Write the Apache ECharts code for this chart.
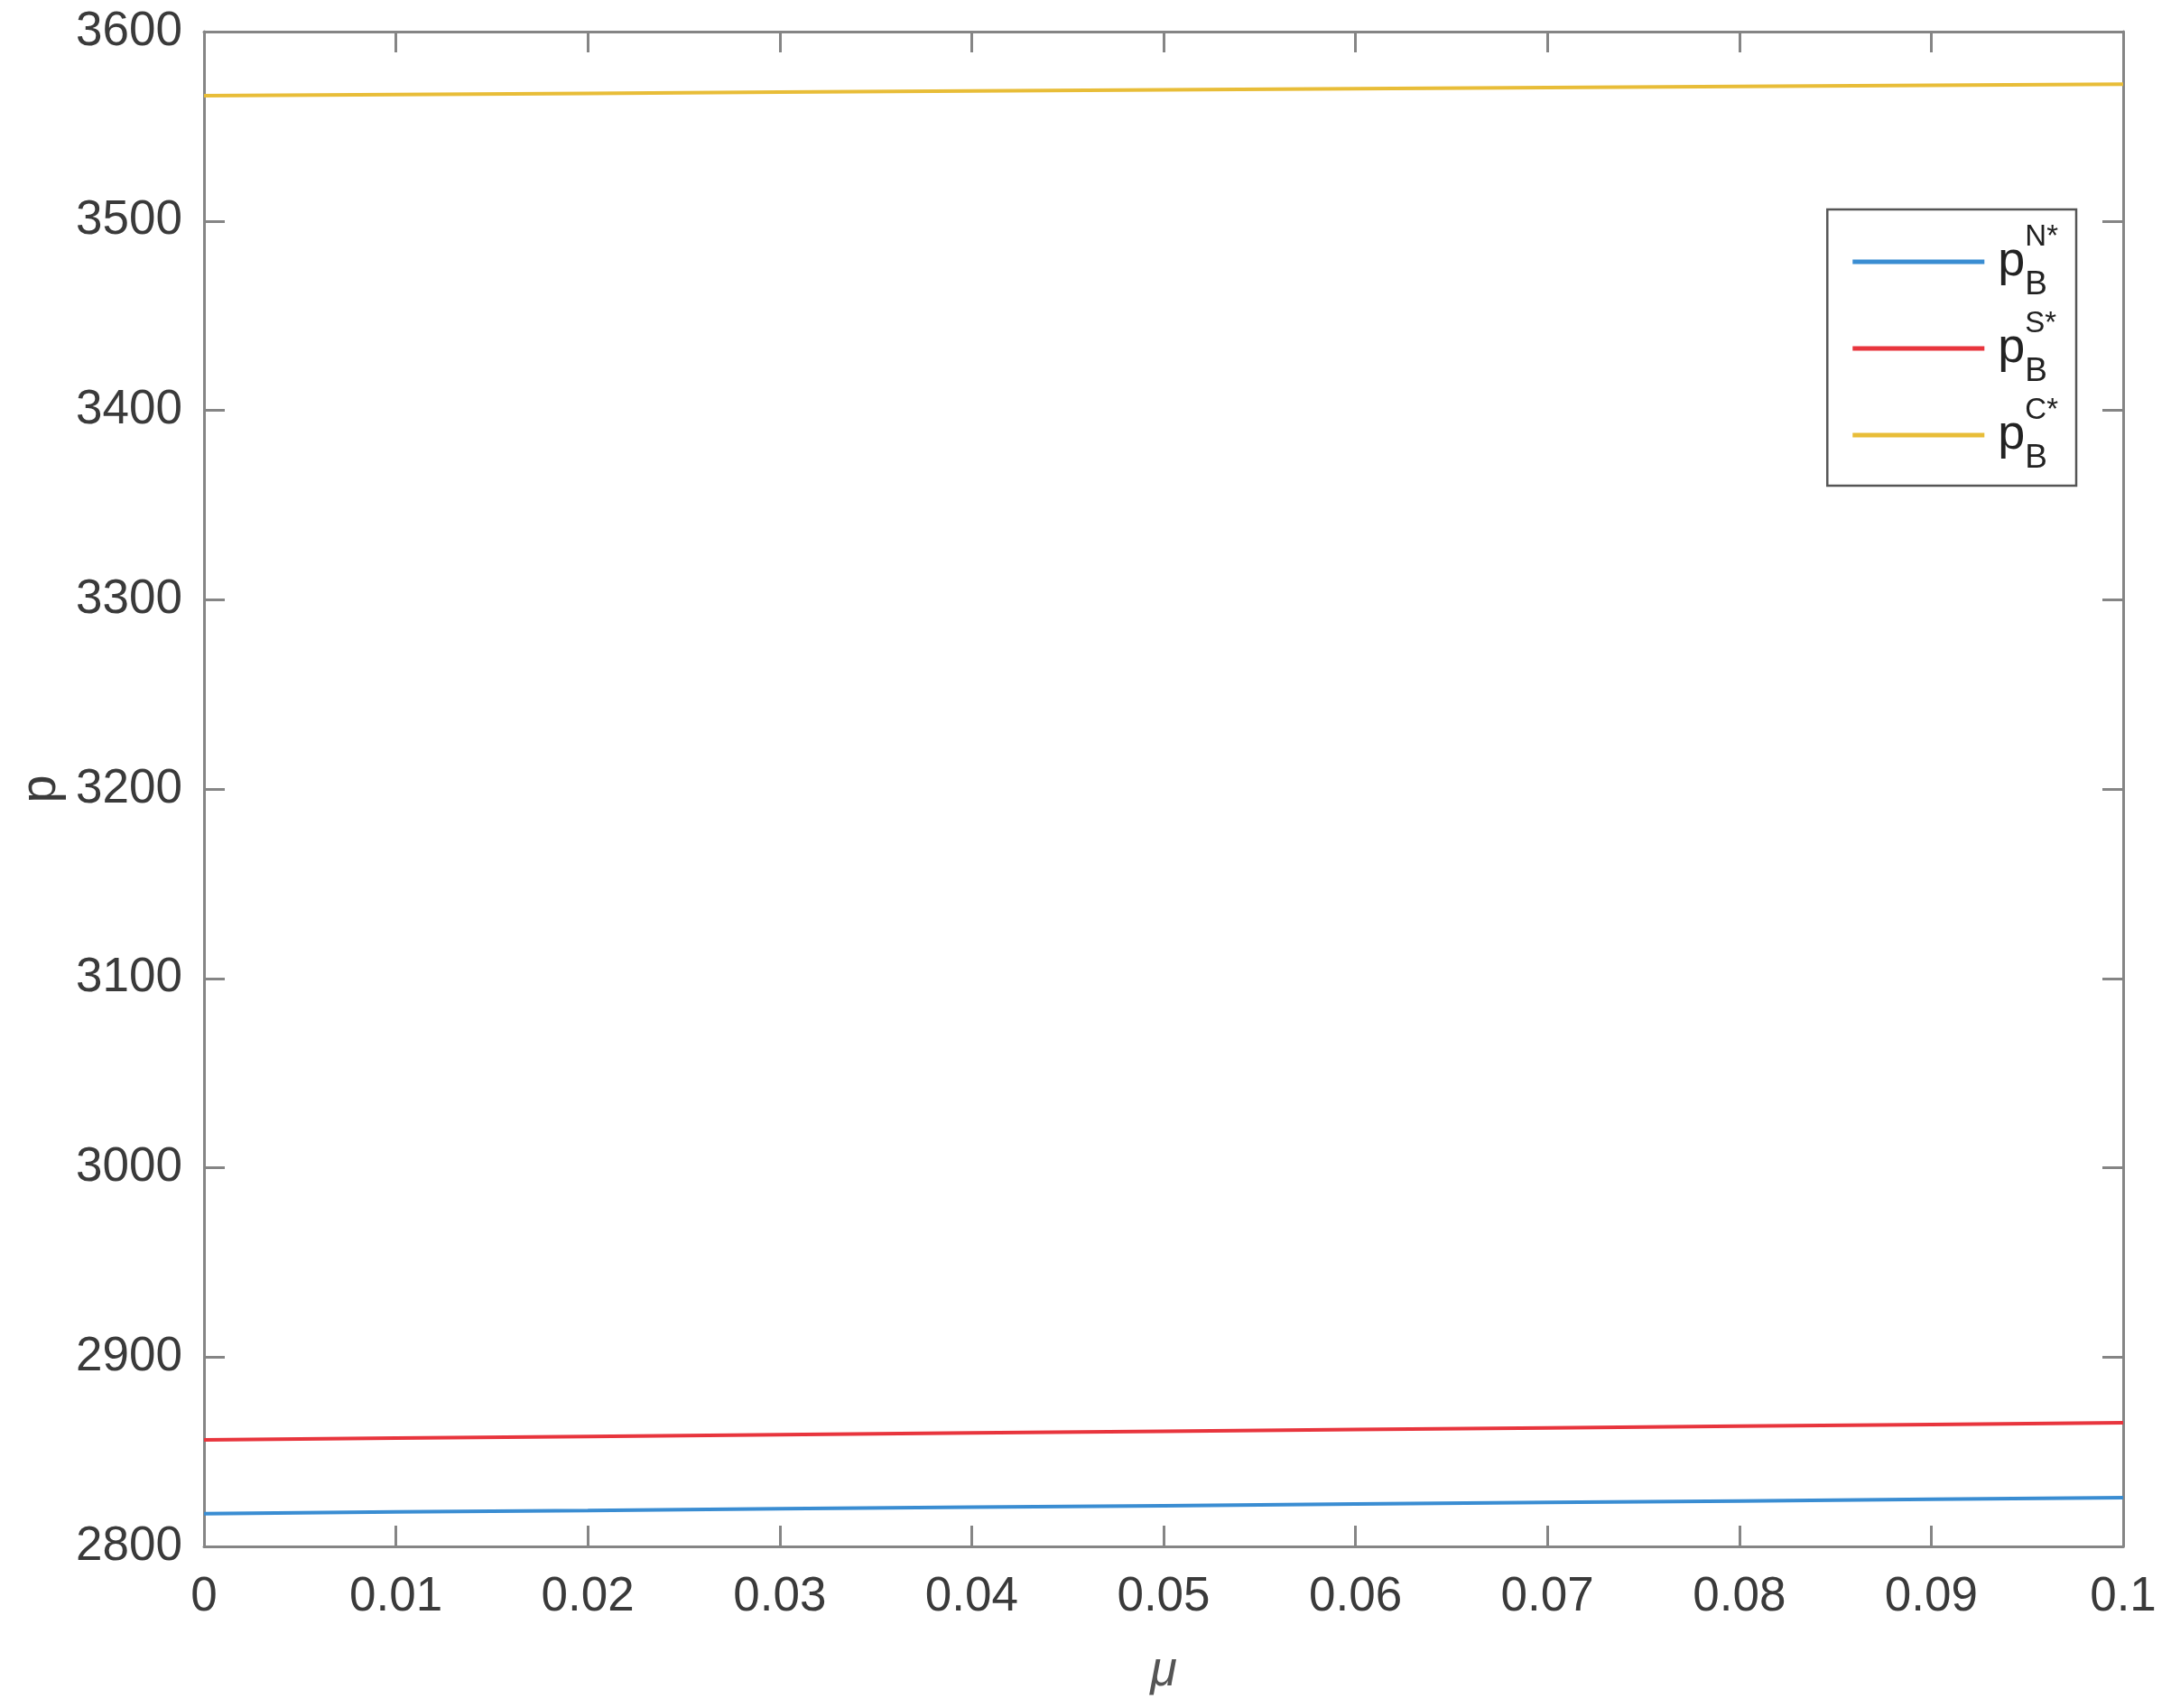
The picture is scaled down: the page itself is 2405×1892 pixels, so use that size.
<!DOCTYPE html>
<html>
<head>
<meta charset="utf-8">
<script src="https://cdn.jsdelivr.net/npm/echarts@6/dist/echarts.min.js"></script>
<style>
  html, body { margin: 0; padding: 0; background: #fff; }
  #main { width: 2405px; height: 1892px; }
</style>
</head>
<body>
<div id="main"></div>
<script>
// values
const mu = [0, 0.01, 0.02, 0.03, 0.04, 0.05, 0.06, 0.07, 0.08, 0.09, 0.1];
const pN = [2817.3, 2818.2, 2819.0, 2819.9, 2820.7, 2821.5, 2822.4, 2823.2, 2824.0, 2824.9, 2825.7];
const pS = [2856.3, 2857.2, 2858.1, 2859.0, 2859.9, 2860.8, 2861.7, 2862.6, 2863.5, 2864.4, 2865.3];
const pC = [3566.2, 3566.8, 3567.4, 3568.0, 3568.6, 3569.2, 3569.8, 3570.4, 3571.0, 3571.6, 3572.2];
const seriesNames = ['N', 'S', 'C'];
const colors = ['#3a8dd2', '#e8353d', '#e8bd38'];

const fontFam = '"Liberation Sans", Arial, Helvetica, sans-serif';
const gray = '#3a3a3a';
const axisCol = '#858585';

let myChart = echarts.init(document.getElementById('main'));

function pairs(ys) {
  return mu.map(function (x, i) { return [x, ys[i]]; });
}

// box-style frame: ticks inward on all four sides
const frameAxis = {
  axisLine: { show: true, onZero: false, lineStyle: { color: axisCol, width: 3 } },
  axisTick: { show: true, inside: true, length: 23, lineStyle: { color: axisCol, width: 3 } },
  splitLine: { show: false }
};

let option = {
  backgroundColor: '#fff',
  animation: false,
  color: colors,
  grid: { left: 226, right: 53, top: 35, bottom: 179, containLabel: false },
  legend: {
    orient: 'vertical',
    right: 105,
    top: 232,
    padding: [14, 20, 12, 28],
    itemGap: 8,
    itemWidth: 146,
    itemHeight: 5,
    borderColor: '#555',
    borderWidth: 2.5,
    borderRadius: 0,
    icon: 'rect',
    data: seriesNames,
    formatter: function (name) {
      return '{p|p}{sup|' + name + '*}{sub|B}';
    },
    textStyle: {
      rich: {
        p: { fontFamily: fontFam, fontSize: 54, color: '#222', height: 88, padding: [0, 0, 0, 10] },
        sup: { fontFamily: fontFam, fontSize: 33, color: '#222', width: 0, verticalAlign: 'top' },
        sub: { fontFamily: fontFam, fontSize: 37, color: '#222', verticalAlign: 'bottom' }
      }
    }
  },
  xAxis: [
    Object.assign({
      type: 'value',
      min: 0,
      max: 0.1,
      interval: 0.01,
      name: 'μ',
      nameLocation: 'middle',
      nameGap: 112,
      nameTextStyle: { fontFamily: fontFam, fontSize: 54, fontStyle: 'italic', color: '#555' },
      axisLabel: {
        margin: 30,
        fontFamily: fontFam, fontSize: 53, color: gray,
        formatter: function (v) { return String(+v.toFixed(2)); }
      }
    }, frameAxis),
    Object.assign({
      type: 'value', position: 'top', min: 0, max: 0.1, interval: 0.01,
      axisLabel: { show: false }
    }, frameAxis)
  ],
  yAxis: [
    Object.assign({
      type: 'value',
      min: 2800,
      max: 3600,
      interval: 100,
      name: 'p',
      nameLocation: 'middle',
      nameGap: 151,
      nameTextStyle: { fontFamily: fontFam, fontSize: 56, color: gray },
      axisLabel: {
        margin: 24, fontFamily: fontFam, fontSize: 53, color: gray,
        formatter: function (v) { return String(v); }
      }
    }, frameAxis),
    Object.assign({
      type: 'value', position: 'right', min: 2800, max: 3600, interval: 100,
      axisLabel: { show: false }
    }, frameAxis)
  ],
  series: [
    { name: 'N', type: 'line', data: pairs(pN), showSymbol: false, lineStyle: { width: 4 } },
    { name: 'S', type: 'line', data: pairs(pS), showSymbol: false, lineStyle: { width: 4 } },
    { name: 'C', type: 'line', data: pairs(pC), showSymbol: false, lineStyle: { width: 4 } }
  ]
};

myChart.setOption(option);
</script>
</body>
</html>
